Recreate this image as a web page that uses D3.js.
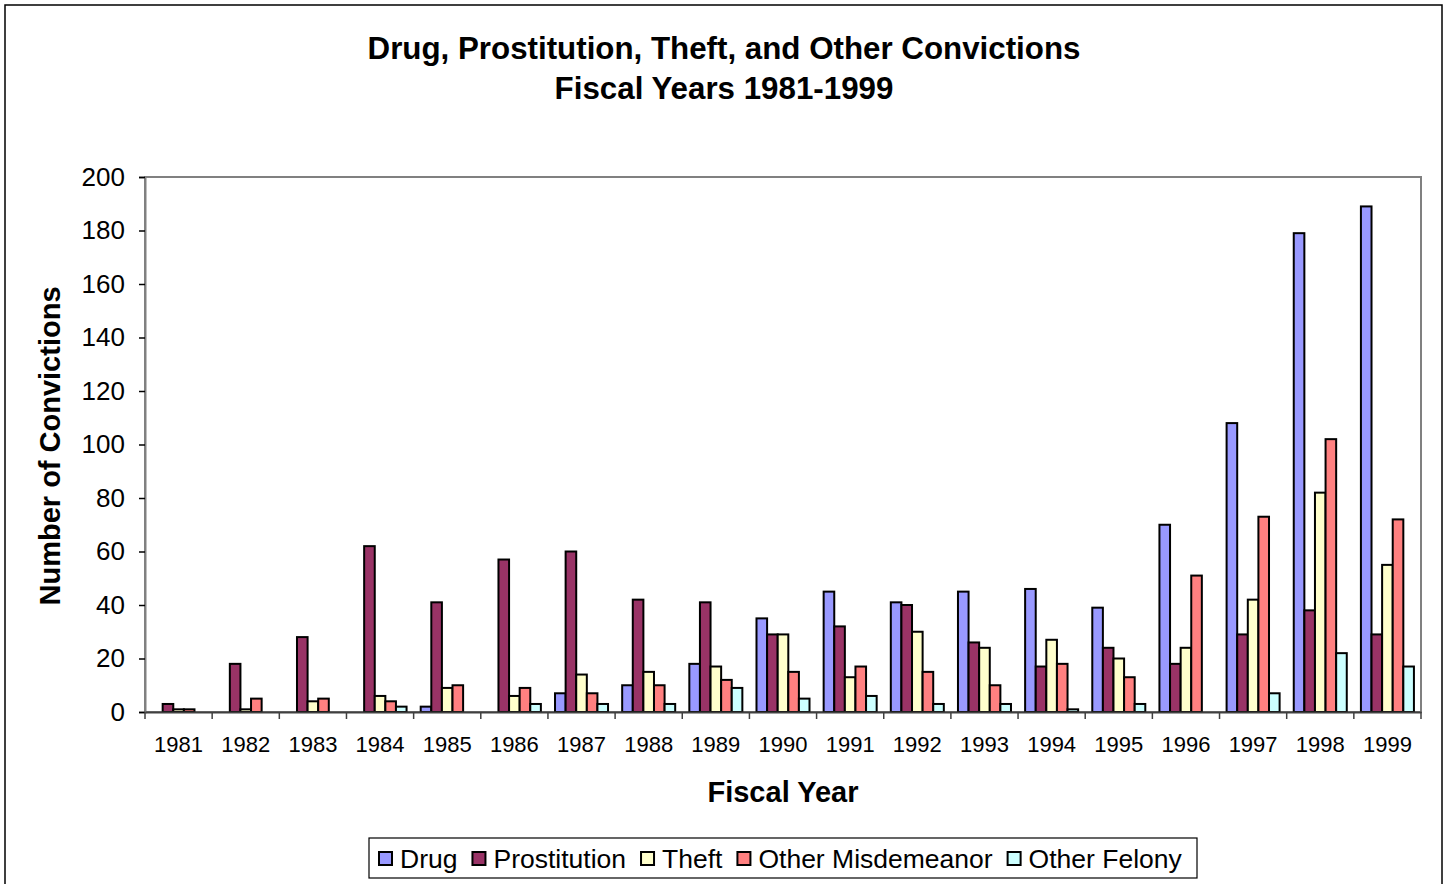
<!DOCTYPE html>
<html>
<head>
<meta charset="utf-8">
<script src="https://cdn.jsdelivr.net/npm/d3@7"></script>
<style>
  html, body { margin: 0; padding: 0; background: #fff; }
  svg { display: block; font-family: Arial, "Liberation Sans", sans-serif; }
</style>
</head>
<body>
<svg id="chart" width="1450" height="884"></svg>
<script>
const years = ["1981","1982","1983","1984","1985","1986","1987","1988","1989","1990",
               "1991","1992","1993","1994","1995","1996","1997","1998","1999"];
const seriesNames = ["Drug", "Prostitution", "Theft", "Other Misdemeanor", "Other Felony"];
const drug         = [0, 0, 0, 0, 2, 0, 7, 10, 18, 35, 45, 41, 45, 46, 39, 70, 108, 179, 189];
const prostitution = [3, 18, 28, 62, 41, 57, 60, 42, 41, 29, 32, 40, 26, 17, 24, 18, 29, 38, 29];
const theft        = [1, 1, 4, 6, 9, 6, 14, 15, 17, 29, 13, 30, 24, 27, 20, 24, 42, 82, 55];
const otherMisd    = [1, 5, 5, 4, 10, 9, 7, 10, 12, 15, 17, 15, 10, 18, 13, 51, 73, 102, 72];
const otherFelony  = [0, 0, 0, 2, 0, 3, 3, 3, 9, 5, 6, 3, 3, 1, 3, 0, 7, 22, 17];
const yTicks = [0, 20, 40, 60, 80, 100, 120, 140, 160, 180, 200];
const colors = ["#9999FF", "#993366", "#FFFFCC", "#FF8080", "#CCFFFF"];
const seriesValues = [drug, prostitution, theft, otherMisd, otherFelony];

const svg = d3.select("#chart");

// outer frame
svg.append("rect").attr("x", 5).attr("y", 5).attr("width", 1437).attr("height", 884)
  .attr("fill", "#fff").attr("stroke", "#000").attr("stroke-width", 1.5);

const plot = {left: 145, top: 177, right: 1421, bottom: 712};

// title
svg.append("text").attr("x", 724).attr("y", 59).attr("text-anchor", "middle")
  .attr("font-size", 31.3).attr("font-weight", "bold").text("Drug, Prostitution, Theft, and Other Convictions");
svg.append("text").attr("x", 724).attr("y", 99).attr("text-anchor", "middle")
  .attr("font-size", 31.3).attr("font-weight", "bold").text("Fiscal Years 1981-1999");

const x0 = d3.scaleBand().domain(years).range([plot.left, plot.right]).padding(0);
const x1 = d3.scaleBand().domain(seriesNames).range([0, x0.bandwidth()]).paddingInner(0).paddingOuter(0.667);
const y = d3.scaleLinear().domain([0, 200]).range([plot.bottom, plot.top]);

// plot area border
svg.append("rect").attr("x", plot.left).attr("y", plot.top)
  .attr("width", plot.right - plot.left).attr("height", plot.bottom - plot.top)
  .attr("fill", "none").attr("stroke", "#808080").attr("stroke-width", 2);

// bars
const groups = svg.append("g").selectAll("g").data(years).join("g")
  .attr("transform", d => `translate(${x0(d)},0)`);
groups.selectAll("rect")
  .data((d, i) => seriesNames.map((s, j) => ({s, j, v: seriesValues[j][i]})))
  .join("rect")
  .filter(d => d.v > 0)
  .attr("x", d => x1(d.s))
  .attr("y", d => y(d.v))
  .attr("width", x1.bandwidth())
  .attr("height", d => y(0) - y(d.v))
  .attr("fill", d => colors[d.j])
  .attr("stroke", "#000").attr("stroke-width", 2);

// y axis
const yAxis = svg.append("g").attr("transform", `translate(${plot.left},0)`)
  .call(d3.axisLeft(y).tickValues(yTicks).tickSize(6).tickPadding(14));
yAxis.select(".domain").attr("stroke", "#808080").attr("stroke-width", 2);
yAxis.selectAll(".tick line").attr("stroke", "#000").attr("stroke-width", 1.5);
yAxis.selectAll(".tick text").attr("font-size", 26).attr("fill", "#000")
  .attr("font-family", "Arial, 'Liberation Sans', sans-serif");

// x axis
const xAxis = svg.append("g").attr("transform", `translate(0,${plot.bottom})`)
  .call(d3.axisBottom(x0).tickSize(0).tickPadding(24));
xAxis.select(".domain").attr("stroke", "#404040").attr("stroke-width", 2);
xAxis.selectAll(".tick text").attr("font-size", 22).attr("fill", "#000")
  .attr("font-family", "Arial, 'Liberation Sans', sans-serif");
// tick marks at band boundaries
const boundaries = years.map(d => x0(d)).concat([x0(years[years.length - 1]) + x0.bandwidth()]);
svg.append("g").selectAll("line").data(boundaries).join("line")
  .attr("x1", d => d).attr("x2", d => d)
  .attr("y1", plot.bottom).attr("y2", plot.bottom + 7)
  .attr("stroke", "#404040").attr("stroke-width", 1.5);

// axis titles
svg.append("text").attr("x", 783).attr("y", 802).attr("text-anchor", "middle")
  .attr("font-size", 29).attr("font-weight", "bold").text("Fiscal Year");
svg.append("text").attr("transform", "translate(60,446) rotate(-90)").attr("text-anchor", "middle")
  .attr("font-size", 29).attr("font-weight", "bold").text("Number of Convictions");

// legend
const legend = svg.append("g");
legend.append("rect").attr("x", 369).attr("y", 838).attr("width", 828).attr("height", 40)
  .attr("fill", "#fff").attr("stroke", "#000").attr("stroke-width", 1.2);
let lx = 379;
seriesNames.forEach((s, i) => {
  legend.append("rect").attr("x", lx).attr("y", 852).attr("width", 13).attr("height", 13)
    .attr("fill", colors[i]).attr("stroke", "#000").attr("stroke-width", 2);
  const t = legend.append("text").attr("x", lx + 21).attr("y", 868)
    .attr("font-size", 26.5).text(s);
  lx += 21 + t.node().getComputedTextLength() + 15;
});
</script>
</body>
</html>
